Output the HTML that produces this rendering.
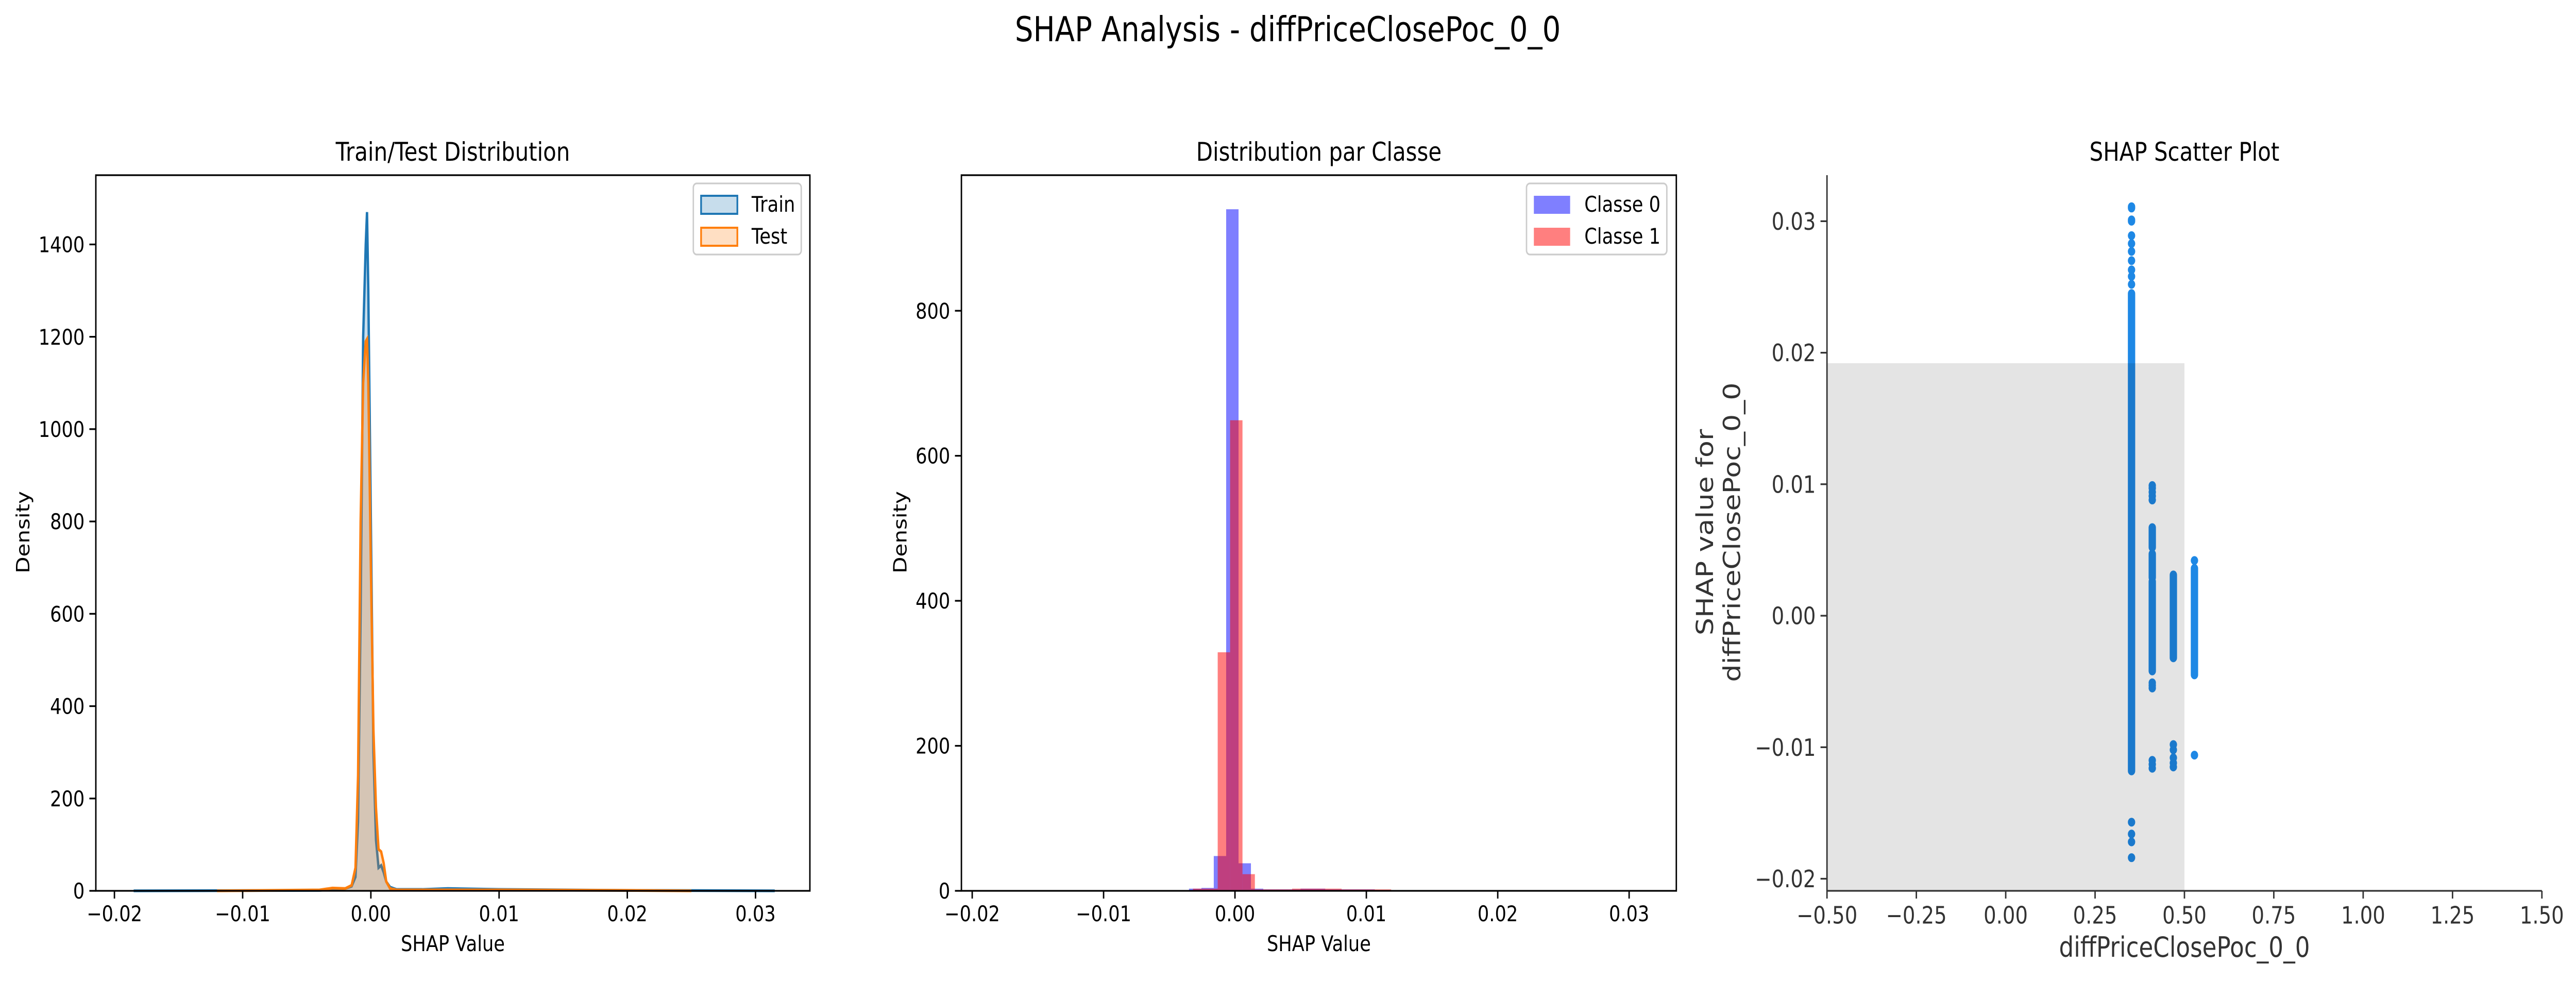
<!DOCTYPE html>
<html><head><meta charset="utf-8"><style>
html,body{margin:0;padding:0;background:#fff;overflow:hidden;width:100%;height:100%;}
svg{display:block;width:100vw;height:100vh;font-family:"DejaVu Sans","Liberation Sans",sans-serif;}
</style></head><body>
<svg id="chart" xmlns="http://www.w3.org/2000/svg" viewBox="0 0 5967 1904" preserveAspectRatio="none">
<rect width="5967" height="1904" fill="#fff"/>
<text x="2983" y="80" font-size="67" text-anchor="middle">SHAP Analysis - diffPriceClosePoc_0_0</text>
<g id="p1"></g>
<g id="p2"></g>
<g id="p3"></g>
</svg>
<script>
// ---- Panel 1 data (KDE) ----
const kdeX = [-0.0185,-0.004,-0.003,-0.002,-0.0015,-0.0012,-0.001,-0.0008,-0.0006,-0.0004,-0.0003,-0.0002,0,0.0002,0.0004,0.0006,0.0008,0.001,0.0012,0.0015,0.002,0.004,0.006,0.01,0.02,0.0315];
const trainY = [0,1,3,5,10,30,150,600,1200,1400,1470,1300,800,300,110,50,55,40,20,8,3,3,5,3,1,0];
const testX = [-0.012,-0.004,-0.003,-0.002,-0.0015,-0.0012,-0.001,-0.0008,-0.0006,-0.0004,-0.0003,-0.0002,0,0.0002,0.0004,0.0006,0.0008,0.001,0.0012,0.0015,0.002,0.004,0.006,0.01,0.02,0.025];
const testY = [0,2,6,5,12,50,250,800,1100,1190,1195,1100,700,350,180,90,85,60,20,5,2,2,2,2,1,0];
const p1XTicks = [-0.02,-0.01,0,0.01,0.02,0.03];
const p1XLabels = ["\u22120.02","\u22120.01","0.00","0.01","0.02","0.03"];
const p1YTicks = [0,200,400,600,800,1000,1200,1400];
// ---- Panel 2 data (histograms) ----
const binWidth = 0.000943;
const blueStart = -0.0035;
const blueCounts = [3,4,48,940,38,3,2,2,2,3,3,2,2,2,2,1,1,1,1,1];
const redStart = -0.0032;
const redCounts = [3,3,329,649,23,2,2,2,3,3,3,3,2,2,2,2,1,1,1,1];
const p2YTicks = [0,200,400,600,800];
// ---- Panel 3 data (scatter) ----
const colX = [0.352,0.41,0.469,0.528];
const colSegments = [
  [[-0.0118,0.0245]],
  [[-0.0042,0.0026],[0.0029,0.0047],[0.0052,0.0067]],
  [[-0.0032,0.0031]],
  [[-0.0045,0.0036]]
];
const colPoints = [
  [0.0252,0.0258,0.0263,0.027,0.0277,0.0283,0.0289,0.030,0.0301,0.031,0.0311,-0.0157,-0.0166,-0.0172,-0.0184],
  [0.0088,0.0091,0.0094,0.0097,0.0099,-0.0051,-0.0053,-0.0055,-0.011,-0.0113,-0.0116],
  [-0.0098,-0.0102,-0.0108,-0.0112,-0.0115],
  [0.0042,-0.0106]
];
const shadeX = [-0.5,0.5];
const shadeTop = 0.0192;
const p3XTicks = [-0.5,-0.25,0,0.25,0.5,0.75,1.0,1.25,1.5];
const p3XLabels = ["\u22120.50","\u22120.25","0.00","0.25","0.50","0.75","1.00","1.25","1.50"];
const p3YTicks = [-0.02,-0.01,0,0.01,0.02,0.03];
const p3YLabels = ["\u22120.02","\u22120.01","0.00","0.01","0.02","0.03"];

const NS="http://www.w3.org/2000/svg";
function mk(parent,tag,attrs){const e=document.createElementNS(NS,tag);for(const k in attrs)e.setAttribute(k,attrs[k]);parent.appendChild(e);return e;}
function scale(d0,d1,r0,r1){return v=>r0+(v-d0)/(d1-d0)*(r1-r0);}

function axes(g,L,R,T,B,xs,ys,xt,xl,yt,yl,opts){
  const col=opts.color||"#000", fs=opts.fs||42;
  if(opts.box){
    const r=mk(g,'rect',{x:L,y:T,width:R-L,height:B-T,fill:'none',stroke:col,'stroke-width':3.3});
    
    
  } else {
    const l1=mk(g,'line',{x1:L,y1:T,x2:L,y2:B,stroke:col,'stroke-width':3.3});
    
    
    const l2=mk(g,'line',{x1:L,y1:B,x2:R,y2:B,stroke:col,'stroke-width':3.3});
    
    
  }
  xt.forEach((v,i)=>{const x=xs(v);
    const t=mk(g,'line',{x1:x,y1:B,x2:x,y2:B+15,stroke:col,'stroke-width':3.3});
    
    
    const tx=mk(g,'text',{x:x,y:B+15+fs*1.05,'font-size':fs,'text-anchor':'middle',fill:col});
    
    
    tx.textContent=xl[i];});
  yt.forEach((v,i)=>{const y=ys(v);
    const t=mk(g,'line',{x1:L-15,y1:y,x2:L,y2:y,stroke:col,'stroke-width':3.3});
    
    
    const tx=mk(g,'text',{x:L-26,y:y+fs*0.36,'font-size':fs,'text-anchor':'end',fill:col});
    
    
    tx.textContent=yl[i];});
}
function label(g,txt,x,y,fs,rot,name,col){
  const t=mk(g,'text',{x:x,y:y,'font-size':fs,'text-anchor':'middle',fill:col||'#000'});
  if(rot)t.setAttribute('transform','rotate(-90 '+x+' '+y+')');
  
  
  t.textContent=txt;return t;
}

// ---------- Panel 1 ----------
(function(){
  const g=document.getElementById('p1');
  const L=222,R=1876,T=340,B=1729;
  const xs=scale(-0.02145,0.03424,L,R), ys=scale(0,1550,B,T);
  function area(xa,ya,stroke,fill,name){
    let d='M'+xs(xa[0])+','+ys(0);
    xa.forEach((x,i)=>d+=' L'+xs(x)+','+ys(ya[i]));
    d+=' L'+xs(xa[xa.length-1])+','+ys(0)+' Z';
    const a=mk(g,'path',{d:d,fill:fill,'fill-opacity':0.25,stroke:'none'});
    
    
    let d2='';xa.forEach((x,i)=>d2+=(i?' L':'M')+xs(x)+','+ys(ya[i]));
    const l=mk(g,'path',{d:d2,fill:'none',stroke:stroke,'stroke-width':5.5});
    
    
  }
  area(kdeX,trainY,'#1f77b4','#1f77b4','train-kde');
  area(testX,testY,'#ff7f0e','#ff7f0e','test-kde');
  axes(g,L,R,T,B,xs,ys,p1XTicks,p1XLabels,p1YTicks,p1YTicks.map(String),{box:true});
  label(g,'Train/Test Distribution',(L+R)/2,312,50,false,'panel-title');
  label(g,'SHAP Value',(L+R)/2,1846,42,false,'x-axis-title');
  label(g,'Density',68,1033,42,true,'y-axis-title');
  const lg=mk(g,'g',{});
  
  
  mk(lg,'rect',{x:1606,y:356,width:250,height:138,rx:8,fill:'#fff',stroke:'#ccc','stroke-width':3.3});
  [['Train','#1f77b4',396],['Test','#ff7f0e',458]].forEach(e=>{
    const r=mk(lg,'rect',{x:1624,y:e[2]-16,width:84,height:35,fill:e[1],'fill-opacity':0.25,stroke:e[1],'stroke-width':4});
    
    
    const t=mk(lg,'text',{x:1741,y:e[2]+15,'font-size':42});
    
    
    t.textContent=e[0];
  });
})();

// ---------- Panel 2 ----------
(function(){
  const g=document.getElementById('p2');
  const L=2227,R=3883,T=340,B=1729;
  const xs=scale(-0.02,0.01,2252,3165), ys=scale(0,987,B,T);
  function hist(start,counts,color,name){
    counts.forEach((c,i)=>{const x0=xs(start+i*binWidth),x1=xs(start+(i+1)*binWidth);
      const r=mk(g,'rect',{x:x0,y:ys(c),width:x1-x0,height:ys(0)-ys(c),fill:color,'fill-opacity':0.5});
      
      });
  }
  hist(blueStart,blueCounts,'#0000ff','classe-0');
  hist(redStart,redCounts,'#ff0000','classe-1');
  axes(g,L,R,T,B,xs,ys,p1XTicks,p1XLabels,p2YTicks,p2YTicks.map(String),{box:true});
  label(g,'Distribution par Classe',(L+R)/2,312,50,false,'panel-title');
  label(g,'SHAP Value',(L+R)/2,1846,42,false,'x-axis-title');
  label(g,'Density',2100,1033,42,true,'y-axis-title');
  const lg=mk(g,'g',{});
  
  
  mk(lg,'rect',{x:3536,y:356,width:325,height:138,rx:8,fill:'#fff',stroke:'#ccc','stroke-width':3.3});
  [['Classe 0','#0000ff',396],['Classe 1','#ff0000',458]].forEach((e,i)=>{
    const r=mk(lg,'rect',{x:3553,y:e[2]-16,width:84,height:35,fill:e[1],'fill-opacity':0.5});
    
    
    const t=mk(lg,'text',{x:3670,y:e[2]+15,'font-size':42});
    
    
    t.textContent=e[0];
  });
})();

// ---------- Panel 3 ----------
(function(){
  const g=document.getElementById('p3');
  const L=4232,R=5888,T=340,B=1729;
  const xs=scale(-0.5,1.5,L,R), ys=scale(-0.02092,0.0335,B,T);
  const rad=8.5;
  colX.forEach((cx,i)=>{
    const x=xs(cx);
    colSegments[i].forEach(s=>{
      const r=mk(g,'rect',{x:x-rad,y:ys(s[1])-rad,width:2*rad,height:ys(s[0])-ys(s[1])+2*rad,rx:rad,fill:'#1e88e5'});
      
      
    });
    colPoints[i].forEach(v=>{
      const c=mk(g,'circle',{cx:x,cy:ys(v),r:rad,fill:'#1e88e5'});
      
      
    });
  });
  const sh=mk(g,'rect',{x:xs(shadeX[0]),y:ys(shadeTop),width:xs(shadeX[1])-xs(shadeX[0]),height:B-ys(shadeTop),fill:'#000','fill-opacity':0.105});
  
  
  axes(g,L,R,T,B,xs,ys,p3XTicks,p3XLabels,p3YTicks,p3YLabels,{box:false,color:'#333',fs:46});
  label(g,'SHAP Scatter Plot',(L+R)/2,312,50,false,'panel-title');
  label(g,'diffPriceClosePoc_0_0',(L+R)/2,1857,54,false,'x-axis-title','#333');
  label(g,'SHAP value for',3968,1033,54,true,'y-axis-title-line1','#333');
  label(g,'diffPriceClosePoc_0_0',4031,1033,54,true,'y-axis-title-line2','#333');
})();
</script>
</body></html>
